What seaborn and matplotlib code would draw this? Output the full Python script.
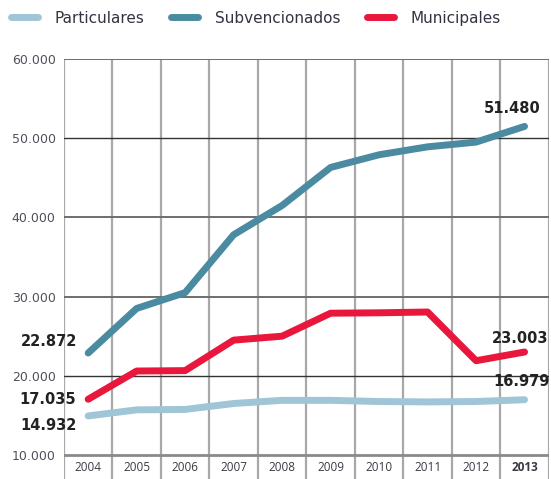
import matplotlib
matplotlib.use("Agg")
import matplotlib.pyplot as plt
import seaborn as sns
import pandas as pd

# datos
years = [2004, 2005, 2006, 2007, 2008, 2009, 2010, 2011, 2012, 2013]
particulares = [14932, 15700, 15750, 16500, 16900, 16900, 16750, 16700, 16750, 16979]
subvencionados = [22872, 28500, 30500, 37800, 41500, 46300, 47900, 48900, 49500, 51480]
municipales = [17035, 20600, 20650, 24500, 25000, 27900, 27950, 28050, 21900, 23003]
series_names = ["Particulares", "Subvencionados", "Municipales"]
colors = {"Particulares": "#9fc5d6", "Subvencionados": "#4a8ba1", "Municipales": "#e8173b"}
yticks = [10000, 20000, 30000, 40000, 50000, 60000]
ytick_labels = ["10.000", "20.000", "30.000", "40.000", "50.000", "60.000"]

df = pd.DataFrame({
    "year": years * 3,
    "valor": particulares + subvencionados + municipales,
    "serie": [s for s in series_names for _ in years],
})

sns.set_theme(style="white")
plt.rcParams["font.family"] = ["DejaVu Sans"]

fig = plt.figure(figsize=(5.51, 4.79), dpi=100)
ax = fig.add_axes([0.116, 0.0, 0.880, 0.877])

# rejilla
for x in [y - 0.5 for y in years] + [years[-1] + 0.5]:
    ax.axvline(x, color="#a8a8a8", lw=1.6, zorder=1)
for v in yticks:
    if v == 10000:
        ax.axhline(v, color="#8a8a8a", lw=2, zorder=1)
    elif v in (20000, 50000):
        ax.axhline(v, color="#333333", lw=1.0, zorder=1)
    else:
        ax.axhline(v, color="#6e6e6e", lw=1.4, zorder=1)

sns.lineplot(data=df, x="year", y="valor", hue="serie", hue_order=series_names,
             palette=colors, linewidth=5, solid_capstyle="round", ax=ax,
             legend=False, zorder=3)

ax.set_xlim(years[0] - 0.5, years[-1] + 0.5)
ax.set_ylim(6970, 60000)
ax.set_yticks(yticks)
ax.set_yticklabels(ytick_labels, fontsize=9, color="#50505c")
for t in ax.get_yticklabels():
    t.set_verticalalignment("center_baseline")
ax.set_xticks(years)
ax.set_xticklabels([str(y) for y in years], fontsize=8.5, color="#3a3a45",
                   family=["Open Sans", "DejaVu Sans"])
ax.get_xticklabels()[-1].set_fontweight("bold")
ax.tick_params(axis="x", length=0, pad=-13)
ax.tick_params(axis="y", length=0, pad=6)
ax.set_xlabel("")
ax.set_ylabel("")
for s in ax.spines.values():
    s.set_visible(False)

# etiquetas de valores
lab = dict(fontsize=10.5, fontweight="bold", color="#222222", textcoords="offset points",
           annotation_clip=False)
ax.annotate("22.872", (years[0], subvencionados[0]), xytext=(-8, 8), ha="right", va="center", **lab)
ax.annotate("17.035", (years[0], municipales[0]), xytext=(-9, 0), ha="right", va="center", **lab)
ax.annotate("14.932", (years[0], particulares[0]), xytext=(-8, -7), ha="right", va="center", **lab)
ax.annotate("51.480", (years[-1], subvencionados[-1]), xytext=(-9, 13), ha="center", va="center", **lab)
ax.annotate("23.003", (years[-1], municipales[-1]), xytext=(-3, 10), ha="center", va="center", **lab)
ax.annotate("16.979", (years[-1], particulares[-1]), xytext=(-2, 13), ha="center", va="center", **lab)

# leyenda
handles = [plt.Line2D([], [], color=colors[s], lw=5, solid_capstyle="round") for s in series_names]
fig.legend(handles, series_names, loc="upper left", bbox_to_anchor=(0.0, 1.0), ncol=3,
           frameon=False, fontsize=11, handlelength=1.8, columnspacing=1.7,
           handletextpad=1.1, labelcolor="#333344", borderaxespad=0.3)

fig.savefig("out.png", dpi=100)
